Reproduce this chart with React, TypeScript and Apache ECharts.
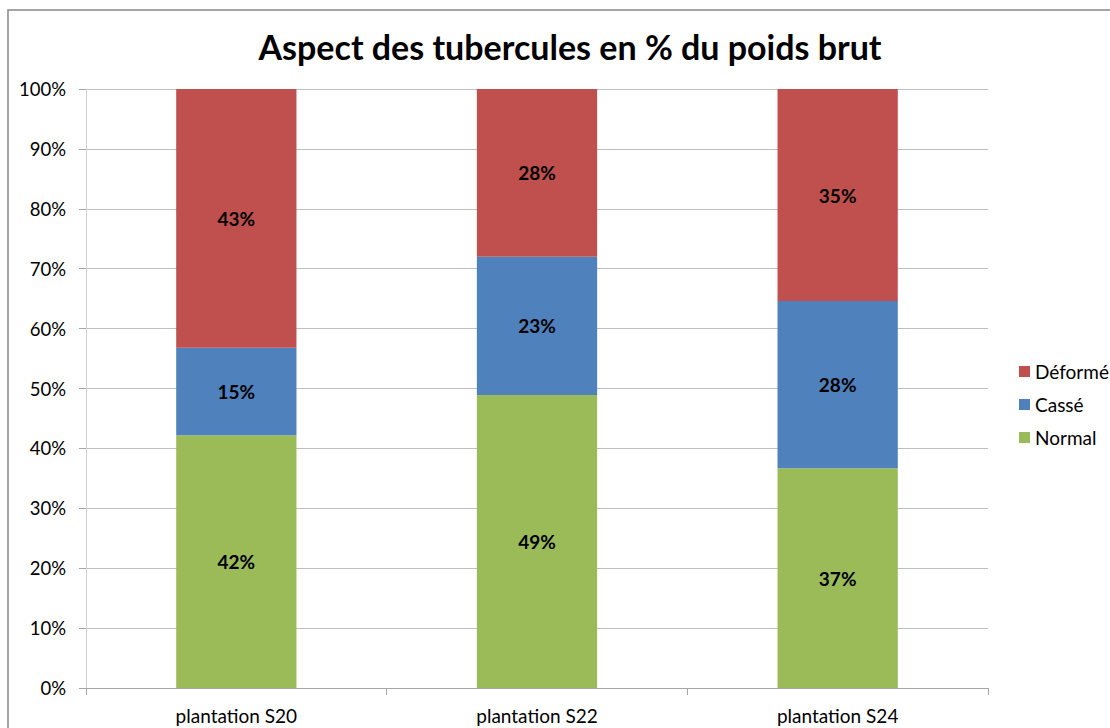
import React, { useEffect, useRef } from "react";
import * as echarts from "echarts";

const categories = ["plantation S20", "plantation S22", "plantation S24"];
const normal = [42.2, 48.9, 36.7];
const casse = [14.6, 23.1, 27.9];
const deforme = [43.2, 28.0, 35.4];
const seriesNames = ["Normal", "Cassé", "Déformé"];
const legendOrder = ["Déformé", "Cassé", "Normal"];
const titleText = "Aspect des tubercules en % du poids brut";

const FONT = "Lato";

export default function App() {
  const ref = useRef<HTMLDivElement>(null);
  useEffect(() => {
    if (!ref.current) return;
    const chart = echarts.init(ref.current, undefined, { renderer: "svg" });
    const label = {
      show: true,
      position: "inside",
      color: "#000",
      fontFamily: FONT,
      fontWeight: "bold",
      fontSize: 19,
      formatter: (p: any) => Math.round(p.value) + "%",
    };
    const mk = (name: string, data: number[], color: string) => ({
      name,
      type: "bar",
      stack: "total",
      barWidth: "40%",
      data,
      itemStyle: { color },
      label,
      emphasis: { disabled: true },
    });
    chart.setOption({
      animation: false,
      backgroundColor: "#fff",
      title: {
        text: titleText,
        left: 565,
        top: 24,
        textAlign: "center",
        textStyle: { fontFamily: FONT, fontWeight: "bold", fontSize: 34, color: "#000" },
      },
      graphic: [
        {
          type: "rect",
          shape: { x: 8, y: 10, width: 1300, height: 900 },
          style: { fill: "none", stroke: "#868686", lineWidth: 1.5 },
          silent: true,
        },
      ],
      legend: {
        orient: "vertical",
        left: 1014,
        top: 357,
        data: legendOrder,
        itemWidth: 11,
        itemHeight: 11,
        itemGap: 14,
        icon: "rect",
        textStyle: { fontFamily: FONT, fontSize: 19, color: "#000", padding: [0, 0, 0, 0] },
      },
      grid: { left: 86, right: 122, top: 89, bottom: 40, containLabel: false },
      xAxis: {
        type: "category",
        data: categories,
        boundaryGap: true,
        axisLine: { show: true, lineStyle: { color: "#A6A6A6", width: 1 } },
        axisTick: { show: true, alignWithLabel: false, length: 7, lineStyle: { color: "#A6A6A6" } },
        axisLabel: { fontFamily: FONT, fontSize: 19, color: "#000", margin: 18 },
      },
      yAxis: {
        type: "value",
        min: 0,
        max: 100,
        interval: 10,
        axisLine: { show: true, lineStyle: { color: "#D0D0D0", width: 1 } },
        axisTick: { show: true, length: 7, lineStyle: { color: "#A6A6A6" } },
        axisLabel: { formatter: "{value}%", fontFamily: FONT, fontSize: 18.5, color: "#000", margin: 20 },
        splitLine: { show: true, lineStyle: { color: "#BFBFBF", width: 1 } },
      },
      series: [
        mk(seriesNames[0], normal, "#9BBB59"),
        mk(seriesNames[1], casse, "#4F81BD"),
        mk(seriesNames[2], deforme, "#C0504D"),
      ],
    });
    return () => chart.dispose();
  }, []);
  return (
    <div
      ref={ref}
      style={{ position: "fixed", left: 0, top: 0, width: 1110, height: 728 }}
    />
  );
}
